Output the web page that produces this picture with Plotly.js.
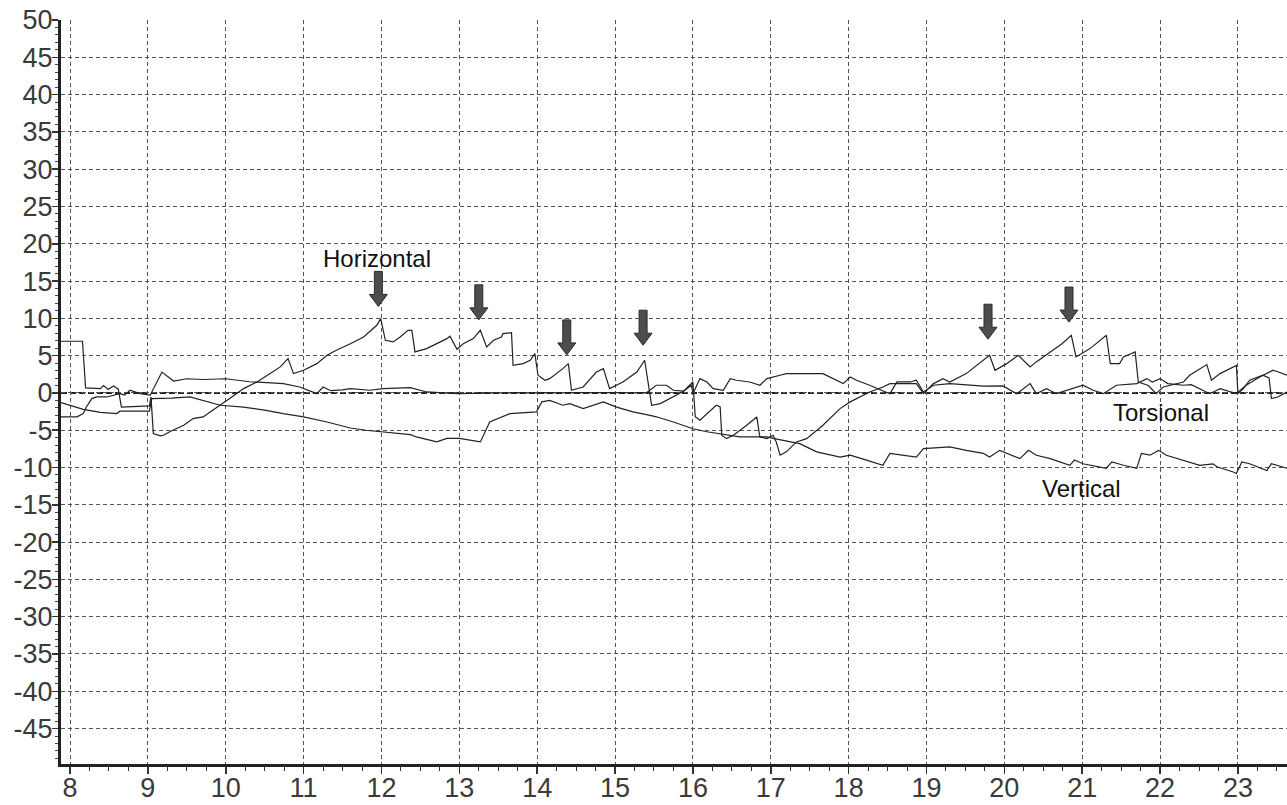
<!DOCTYPE html>
<html>
<head>
<meta charset="utf-8">
<script src="https://cdn.plot.ly/plotly-3.0.1.min.js"></script>
<style>html,body{margin:0;padding:0;background:#fff;}#chart{width:1287px;height:805px;}</style>
</head>
<body>
<div id="chart"></div>
<script>
// ---- Data ----
const horizX = [7.884,8.16,8.20,8.39,8.43,8.49,8.56,8.62,8.66,8.85,9.02,9.04,9.07,9.16,9.20,9.28,9.37,9.46,9.58,9.71,9.80,9.93,10.05,10.23,10.40,10.57,10.70,10.80,10.87,11.00,11.17,11.30,11.42,11.60,11.77,11.94,11.99,12.05,12.15,12.24,12.34,12.39,12.43,12.58,12.71,12.84,12.88,12.97,13.05,13.18,13.27,13.35,13.44,13.54,13.56,13.67,13.69,13.82,13.91,13.97,14.01,14.10,14.16,14.25,14.33,14.40,14.44,14.59,14.76,14.85,14.93,15.10,15.28,15.38,15.47,15.58,15.75,15.88,16.00,16.03,16.09,16.18,16.30,16.35,16.37,16.43,16.52,16.69,16.82,16.86,16.95,17.03,17.07,17.12,17.20,17.33,17.46,17.67,17.89,18.02,18.27,18.44,18.53,18.87,18.96,19.09,19.21,19.30,19.51,19.81,19.88,20.03,20.18,20.33,20.41,20.59,20.74,20.86,20.92,21.10,21.18,21.31,21.36,21.48,21.53,21.68,21.72,21.85,21.95,22.04,22.30,22.38,22.60,22.66,22.77,22.98,23.00,23.07,23.15,23.32,23.40,23.43,23.51,23.63];
const horizY = [6.93,6.93,0.67,0.58,1.0,0.5,0.94,0.5,-1.9,-1.8,-1.74,-0.54,-5.45,-5.76,-5.67,-5.2,-4.78,-4.33,-3.44,-3.22,-2.55,-1.65,-0.76,0.58,1.47,2.59,3.49,4.6,2.59,3.04,3.93,5.05,5.72,6.6,7.5,9.07,9.96,7.06,6.84,7.5,8.4,8.4,5.5,5.94,6.6,7.28,7.6,5.86,6.6,7.28,8.4,6.17,7.06,7.5,7.95,8.08,3.7,3.93,4.38,5.27,2.37,1.7,1.92,2.59,3.26,3.93,0.36,0.8,2.8,3.26,0.58,1.47,2.8,4.38,-1.65,-1.43,-0.54,0.23,1.47,-3.2,-3.66,-2.77,-1.65,-1.88,-5.67,-6.13,-5.67,-4.33,-3.22,-5.9,-6.13,-5.67,-6.57,-8.35,-7.9,-6.57,-6.13,-4.33,-2.1,-1.2,0.13,0.8,1.25,1.25,-0.1,1.25,1.92,1.47,2.59,5.05,3.04,3.93,5.05,3.49,4.16,5.5,6.6,7.73,4.83,5.94,6.6,7.73,3.93,3.93,4.83,5.5,1.47,1.0,-0.1,0.8,1.47,2.37,3.8,1.7,2.59,3.7,-0.1,0.58,1.7,2.37,2.0,-0.76,-0.54,0.13];

const vertX = [7.884,8.17,8.39,8.60,8.64,9.02,9.05,9.30,9.54,9.76,9.93,10.23,10.50,10.74,11.00,11.30,11.60,11.80,12.02,12.37,12.45,12.71,12.84,13.00,13.27,13.39,13.65,13.99,14.06,14.16,14.33,14.42,14.59,14.85,15.02,15.23,15.45,15.53,15.75,16.00,16.18,16.35,16.60,16.95,17.03,17.37,17.59,17.89,18.02,18.23,18.44,18.53,18.87,18.96,19.30,19.51,19.73,19.81,19.94,20.20,20.31,20.41,20.59,20.84,20.90,21.01,21.31,21.38,21.53,21.70,21.76,21.87,21.98,22.08,22.30,22.51,22.68,22.73,22.94,22.98,23.05,23.15,23.37,23.43,23.63];
const vertY = [-1.3,-2.2,-2.6,-2.77,-2.45,-2.45,-0.76,-0.7,-0.54,-1.2,-1.65,-1.9,-2.3,-2.77,-3.2,-3.9,-4.7,-5.0,-5.2,-5.6,-5.9,-6.57,-6.1,-6.1,-6.57,-3.9,-2.77,-2.55,-1.2,-1.0,-1.65,-1.43,-2.1,-1.2,-1.9,-2.55,-3.0,-3.2,-3.9,-4.8,-5.2,-5.45,-5.9,-5.9,-6.1,-6.8,-7.9,-8.6,-8.35,-9.0,-9.7,-8.1,-8.6,-7.47,-7.24,-7.7,-8.1,-8.6,-7.7,-8.8,-7.7,-8.35,-8.8,-9.7,-9.0,-9.5,-10.1,-9.25,-9.7,-10.1,-8.1,-8.35,-7.7,-8.35,-9.0,-9.7,-9.5,-9.9,-10.6,-10.8,-9.25,-9.5,-10.4,-9.5,-10.1];

const torsX = [7.884,8.09,8.17,8.21,8.28,8.34,8.47,8.55,8.64,8.70,8.77,8.90,9.03,9.18,9.33,9.50,9.71,10.00,10.31,10.74,10.95,11.17,11.25,11.35,11.50,11.60,11.85,12.02,12.37,12.58,12.97,13.50,14.00,14.50,15.00,15.40,15.53,15.66,15.75,15.88,15.98,16.00,16.09,16.18,16.26,16.39,16.48,16.56,16.73,16.86,16.95,17.12,17.20,17.67,17.85,17.93,18.02,18.10,18.27,18.53,18.62,18.79,18.87,18.96,19.09,19.30,19.73,19.98,20.16,20.33,20.41,20.54,20.67,21.01,21.14,21.27,21.44,21.70,21.83,21.90,22.00,22.10,22.30,22.40,22.64,22.77,22.98,23.10,23.28,23.45,23.52,23.63];
const torsY = [-3.2,-3.2,-2.77,-1.88,-0.76,-0.54,-0.54,-0.3,-0.1,-0.3,0.36,-0.1,-0.3,2.8,1.6,1.9,1.8,1.9,1.5,1.25,0.8,-0.1,0.8,0.3,0.4,0.58,0.36,0.58,0.71,0.13,-0.1,0.0,0.05,0.0,0.05,0.0,1.03,1.03,0.36,0.23,1.03,-0.1,1.92,1.47,0.58,0.36,1.92,1.7,1.47,1.03,1.92,2.37,2.59,2.59,1.7,1.25,2.14,1.7,1.03,-0.1,1.47,1.47,1.7,0.13,1.03,1.25,0.9,0.94,-0.1,1.25,-0.1,0.58,-0.1,1.03,0.36,-0.1,1.03,1.25,1.92,1.47,1.92,1.25,1.03,1.1,-0.1,0.58,-0.1,1.0,2.14,3.04,2.8,2.37];

// Arrow markers (tip positions) and text labels
const arrowX = [11.96, 13.25, 14.38, 15.36, 19.79, 20.83];
const arrowTipY = [11.6, 9.8, 5.1, 6.4, 7.2, 9.5];
const labelText = ["Horizontal", "Torsional", "Vertical"];
const labelX = [11.94, 22.01, 20.99];
const labelY = [17.96, -2.65, -12.83];

const xTicks = [8,9,10,11,12,13,14,15,16,17,18,19,20,21,22,23];
const yTicks = [50,45,40,35,30,25,20,15,10,5,0,-5,-10,-15,-20,-25,-30,-35,-40,-45];

// ---- Layout geometry ----
const W = 1287, H = 805;
const M = {l: 61, r: 0, t: 20, b: 41};
const xRange = [7.884, 23.63];
const yRange = [-49.75, 50];
const xpp = (xRange[1]-xRange[0]) / (W - M.l - M.r);
const ypp = (yRange[1]-yRange[0]) / (H - M.t - M.b);

const lineStyle = {color: '#222', width: 1.2};
const traces = [
  {x: horizX, y: horizY, name: 'Horizontal', mode: 'lines', line: lineStyle},
  {x: vertX, y: vertY, name: 'Vertical', mode: 'lines', line: lineStyle},
  {x: torsX, y: torsY, name: 'Torsional', mode: 'lines', line: lineStyle}
];

// block arrow shapes built from tip positions
const shapes = [{
  type: 'line', xref: 'paper', x0: 0, x1: 1, yref: 'y', y0: 0, y1: 0,
  line: {color: '#222', width: 2, dash: '6px,3px'}, layer: 'below'
}];
const aLen = 35, aHead = 12, aShaft = 4, aHeadW = 9;
arrowX.forEach((tx, i) => {
  const ty = arrowTipY[i];
  const P = (dx, dy) => (tx + dx*xpp).toFixed(4) + ',' + (ty + dy*ypp).toFixed(4);
  const path = 'M' + P(0,0) + ' L' + P(-aHeadW, aHead) + ' L' + P(-aShaft, aHead) +
    ' L' + P(-aShaft, aLen) + ' L' + P(aShaft, aLen) + ' L' + P(aShaft, aHead) +
    ' L' + P(aHeadW, aHead) + ' Z';
  shapes.push({type: 'path', xref: 'x', yref: 'y', path: path,
    fillcolor: '#4d4d4d', line: {color: '#2a2a2a', width: 1}});
});

const annotations = labelText.map((t, i) => ({
  x: labelX[i], y: labelY[i], xref: 'x', yref: 'y', text: t, showarrow: false,
  font: {family: 'Liberation Sans, Arial, sans-serif', size: 24, color: '#111'},
  xanchor: 'center', yanchor: 'middle'
}));

const axisCommon = {
  showline: true, linecolor: '#222', linewidth: 3, mirror: false,
  showgrid: true, gridcolor: '#555', gridwidth: 1, griddash: '4px,3px',
  zeroline: false, ticks: 'outside', tickcolor: '#333', tickwidth: 1.5,
  tickfont: {family: 'Liberation Sans, Arial, sans-serif', size: 27, color: '#3a3a3a'},
  fixedrange: true
};

const layout = {
  width: W, height: H, margin: M,
  paper_bgcolor: '#fff', plot_bgcolor: '#fff', showlegend: false,
  xaxis: Object.assign({}, axisCommon, {
    range: xRange, tickmode: 'array', tickvals: xTicks, ticktext: xTicks.map(String), ticklen: 7,
    ticklabelstandoff: -9,
    minor: {dtick: 0.25, tick0: 8, ticks: 'outside', ticklen: 4, tickcolor: '#333', tickwidth: 1, showgrid: false}
  }),
  yaxis: Object.assign({}, axisCommon, {
    range: yRange, tickmode: 'array', tickvals: yTicks, ticktext: yTicks.map(String), ticklen: 6,
    ticklabelstandoff: -6,
    minor: {dtick: 1, tick0: 0, ticks: 'outside', ticklen: 3, tickcolor: '#444', tickwidth: 1, showgrid: false}
  }),
  shapes: shapes, annotations: annotations
};

Plotly.newPlot('chart', traces, layout, {displayModeBar: false, staticPlot: true});
</script>
</body>
</html>
